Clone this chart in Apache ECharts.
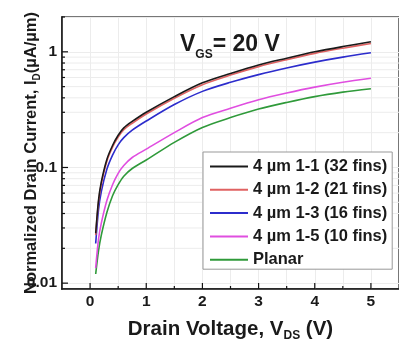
<!DOCTYPE html>
<html>
<head>
<meta charset="utf-8">
<script src="https://cdn.jsdelivr.net/npm/echarts@6/dist/echarts.min.js"></script>
<style>
  html, body { margin: 0; padding: 0; background: #fff; }
  #chart { width: 399px; height: 347px; }
</style>
</head>
<body>
<div id="chart"></div>
<script>
// Drain voltage sweep (V)
const vds = [0.1, 0.15, 0.2, 0.3, 0.4, 0.5, 0.6, 0.75, 1, 1.5, 2, 2.5, 3, 3.5, 4, 4.5, 5];

// Normalized drain current (uA/um) at VGS = 20 V
const fins32 = [0.027, 0.052, 0.075, 0.118, 0.155, 0.19, 0.22, 0.25, 0.30, 0.41, 0.54, 0.65, 0.77, 0.88, 1.00, 1.11, 1.22];
const fins21 = [0.026, 0.050, 0.072, 0.114, 0.150, 0.183, 0.212, 0.241, 0.29, 0.397, 0.52, 0.63, 0.745, 0.855, 0.97, 1.075, 1.18];
const fins16 = [0.022, 0.043, 0.062, 0.097, 0.128, 0.157, 0.181, 0.21, 0.252, 0.35, 0.455, 0.545, 0.635, 0.725, 0.815, 0.90, 0.98];
const fins10 = [0.0135, 0.024, 0.033, 0.052, 0.071, 0.089, 0.104, 0.122, 0.144, 0.20, 0.27, 0.325, 0.385, 0.44, 0.495, 0.545, 0.59];
const planar = [0.012, 0.019, 0.026, 0.041, 0.057, 0.071, 0.084, 0.098, 0.116, 0.165, 0.222, 0.27, 0.32, 0.365, 0.41, 0.448, 0.48];

const seriesNames = ['4 \u00b5m 1-1 (32 fins)', '4 \u00b5m 1-2 (21 fins)', '4 \u00b5m 1-3 (16 fins)', '4 \u00b5m 1-5 (10 fins)', 'Planar'];

// Axis ranges and tick positions
const xRange = [-0.5, 5.5];
const yRange = [0.0089, 2];
const xMajorTicks = [0, 1, 2, 3, 4, 5];
const xMinorTicks = [0.5, 1.5, 2.5, 3.5, 4.5];
const yMajorTicks = [0.01, 0.1, 1];
const yMinorTicks = [0.02, 0.03, 0.04, 0.05, 0.06, 0.07, 0.08, 0.09,
                     0.2, 0.3, 0.4, 0.5, 0.6, 0.7, 0.8, 0.9, 2];

const FONT = 'Arial, "Liberation Sans", Helvetica, sans-serif';
const INK = '#1a1a1a';
const colors = ['#1a1a1a', '#e06262', '#2c2ccc', '#e04ee0', '#2f9a3a'];

function pairs(ys) { return vds.map((x, i) => [x, ys[i]]); }

function curve(name, ys, color, z) {
  return {
    name, type: 'line', data: pairs(ys), symbol: 'none', smooth: 0.3,
    z, lineStyle: { color, width: 1.6 }, itemStyle: { color }
  };
}

// short inward tick marks drawn at data positions along an axis
function ticks(values, onX, len) {
  const data = values.map(v => onX ? [v, yRange[0]] : [xRange[0], v]);
  return {
    type: 'custom', silent: true, clip: false, z: 6, data,
    encode: { x: 0, y: 1 },
    renderItem: (params, api) => {
      const p = api.coord([api.value(0), api.value(1)]);
      const q = onX ? [p[0], p[1] - len] : [p[0] + len, p[1]];
      return { type: 'line', shape: { x1: p[0], y1: p[1], x2: q[0], y2: q[1] },
               style: { stroke: '#111', lineWidth: 1.2 } };
    }
  };
}

// faint horizontal grid at the minor log positions
const minorGrid = {
  type: 'custom', silent: true, clip: true, z: 0,
  data: yMinorTicks.map(v => [xRange[0], v]),
  encode: { x: 0, y: 1 },
  renderItem: (params, api) => {
    const a = api.coord([xRange[0], api.value(1)]);
    const b = api.coord([xRange[1], api.value(1)]);
    return { type: 'line', shape: { x1: a[0], y1: a[1], x2: b[0], y2: b[1] },
             style: { stroke: '#ececec', lineWidth: 1 } };
  }
};

const chart = echarts.init(document.getElementById('chart'), null, { renderer: 'canvas' });

chart.setOption({
  animation: false,
  backgroundColor: '#fff',
  textStyle: { fontFamily: FONT },
  title: {
    text: '{v|V}{s|GS}{v|= 20 V}',
    left: 175, top: 28,
    textStyle: {
      rich: {
        v: { fontSize: 23, fontWeight: 'bold', color: INK, fontFamily: FONT,
             verticalAlign: 'bottom', padding: [0, 0, 5, 0] },
        s: { fontSize: 12, fontWeight: 'bold', color: INK, fontFamily: FONT,
             verticalAlign: 'bottom' }
      }
    }
  },
  legend: {
    data: seriesNames,
    orient: 'vertical',
    left: 203, top: 152,
    backgroundColor: '#fff',
    borderColor: '#999', borderWidth: 1, borderRadius: 0,
    padding: [6, 5, 1, 7],
    itemGap: 6.3,
    icon: 'rect',
    itemWidth: 38, itemHeight: 2,
    textStyle: { fontSize: 16.5, fontWeight: 'bold', color: INK, fontFamily: FONT, lineHeight: 16 }
  },
  grid: {
    left: 62, top: 17, width: 343, height: 276,
    show: true, borderColor: '#777', borderWidth: 2, backgroundColor: 'transparent'
  },
  xAxis: {
    type: 'value', min: xRange[0], max: xRange[1], interval: 0.5,
    name: '{a|Drain Voltage, V}{s|DS}{a| (V)}',
    nameLocation: 'middle', nameGap: 30, nameMoveOverlap: false,
    nameTextStyle: {
      rich: {
        a: { fontSize: 20.5, fontWeight: 'bold', color: INK, fontFamily: FONT,
             verticalAlign: 'bottom', padding: [0, 0, 2, 0] },
        s: { fontSize: 12, fontWeight: 'bold', color: INK, fontFamily: FONT,
             verticalAlign: 'bottom' }
      }
    },
    axisLine: { show: true, onZero: false, lineStyle: { color: '#111', width: 1.5 } },
    axisTick: { show: false },
    axisLabel: {
      margin: 5, fontSize: 15.5, fontWeight: 'bold', color: INK, fontFamily: FONT,
      showMinLabel: false, showMaxLabel: false,
      formatter: v => (Math.abs(v - Math.round(v)) < 1e-9 ? String(Math.round(v)) : '')
    },
    splitLine: { show: true, lineStyle: { color: '#ececec', width: 1 } }
  },
  yAxis: {
    type: 'log', logBase: 10, min: yRange[0], max: yRange[1],
    name: '{a|Normalized Drain Current, I}{s|D}{a|(\u00b5A/\u00b5m)}',
    nameLocation: 'middle', nameGap: 20, nameRotate: 90, nameMoveOverlap: false,
    nameTextStyle: {
      rich: {
        a: { fontSize: 16.5, fontWeight: 'bold', color: INK, fontFamily: FONT,
             verticalAlign: 'bottom', padding: [0, 0, 2, 0] },
        s: { fontSize: 10, fontWeight: 'bold', color: INK, fontFamily: FONT,
             verticalAlign: 'bottom' }
      }
    },
    axisLine: { show: true, onZero: false, lineStyle: { color: '#111', width: 1.5 } },
    axisTick: { show: false },
    axisLabel: {
      margin: 5, fontSize: 15.5, fontWeight: 'bold', color: INK, fontFamily: FONT,
      showMinLabel: false, showMaxLabel: false,
      formatter: v => String(+Number(v).toPrecision(3))
    },
    splitLine: { show: true, lineStyle: { color: '#ececec', width: 1 } }
  },
  series: [
    minorGrid,
    curve(seriesNames[4], planar, colors[4], 2),
    curve(seriesNames[3], fins10, colors[3], 2),
    curve(seriesNames[2], fins16, colors[2], 2),
    curve(seriesNames[1], fins21, colors[1], 2),
    curve(seriesNames[0], fins32, colors[0], 3),
    ticks(xMajorTicks, true, 6),
    ticks(xMinorTicks, true, 3),
    ticks(yMajorTicks, false, 6),
    ticks(yMinorTicks, false, 3)
  ]
});
</script>
</body>
</html>
